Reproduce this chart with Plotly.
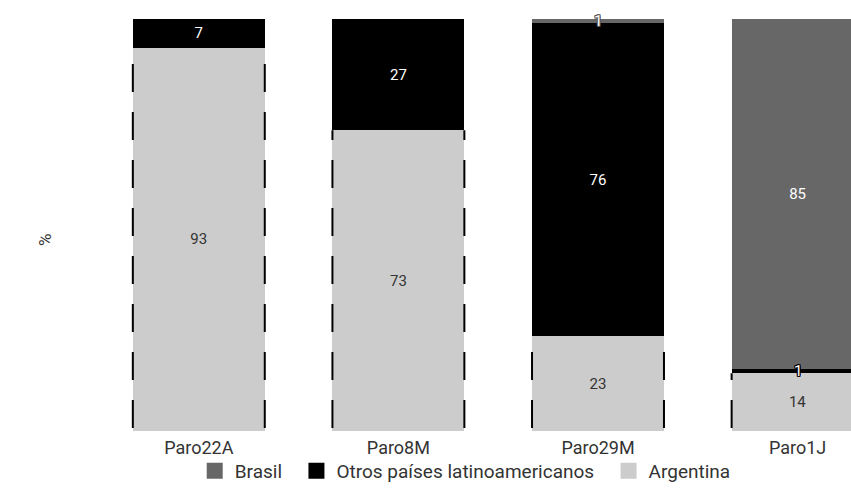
import plotly.graph_objects as go

# Share of participants by origin in each strike (percent)
paros = ["Paro22A", "Paro8M", "Paro29M", "Paro1J"]
argentina = [93, 73, 23, 14]
otros = [7, 27, 76, 1]
brasil = [0, 0, 1, 85]

series_names = ["Brasil", "Otros países latinoamericanos", "Argentina"]

C_BRASIL = "#676767"
C_OTROS = "#000000"
C_ARG = "#cccccc"
TEXT_DARK = "#333333"
FONT = "Roboto, 'Open Sans', sans-serif"

BAR_WIDTH = 0.661
W, H = 851, 500
M_L, M_R, M_T, M_B = 99, 0, 19, 69
STEP_PX = 199.6  # horizontal pixels per category
SMALL = 3        # segments below this are labelled with an outlined annotation
NBSP = "\u00a0"


def labels(vals):
    return [str(v) if v >= SMALL else "" for v in vals]


def outline(color):
    offs = [(1, 1), (-1, -1), (1, -1), (-1, 1), (1, 0), (-1, 0), (0, 1), (0, -1)]
    return ", ".join(f"{dx}px {dy}px 0px {color}" for dx, dy in offs)


fig = go.Figure()

stack = [
    ("Argentina", argentina, C_ARG, TEXT_DARK),
    ("Otros países latinoamericanos", otros, C_OTROS, "white"),
    ("Brasil", brasil, C_BRASIL, "white"),
]

for name, vals, color, tcolor in stack:
    fig.add_trace(go.Bar(
        x=paros, y=vals, name=name,
        marker=dict(color=color, line=dict(width=0)),
        text=labels(vals), textposition="inside", insidetextanchor="middle",
        textangle=0, constraintext="none",
        textfont=dict(family=FONT, size=15, color=tcolor),
        showlegend=False, hoverinfo="skip",
    ))

# Legend entries with larger square keys (trailing spaces widen the item gap)
for k, (name, color) in enumerate(zip(series_names, [C_BRASIL, C_OTROS, C_ARG])):
    pad = NBSP * 2 if k < len(series_names) - 1 else ""
    fig.add_trace(go.Scatter(
        x=[None], y=[None], mode="markers", name=name + pad,
        marker=dict(symbol="square", size=16, color=color),
        showlegend=True, hoverinfo="skip",
    ))

# Outlined labels for the thin segments
annotations = []
outline_colors = {"Otros países latinoamericanos": "#000000", "Brasil": "#555555"}
base = [0] * len(paros)
for name, vals, color, _ in stack:
    for i, v in enumerate(vals):
        if 0 < v < SMALL:
            annotations.append(dict(
                x=paros[i], y=base[i] + v / 2, xref="x", yref="y",
                text=str(v), showarrow=False, xanchor="center", yanchor="middle",
                font=dict(family=FONT, size=15, color="white",
                          shadow=outline(outline_colors[name])),
            ))
        base[i] += v

# Dashed outline around the Argentina segments
shapes = []
for i, a in enumerate(argentina):
    for xe in (i - BAR_WIDTH / 2, i + BAR_WIDTH / 2):
        shapes.append(dict(
            type="line", xref="x", yref="y",
            x0=xe, x1=xe, y0=0, y1=a,
            line=dict(color="black", width=2, dash="0px,3px,28px,17px"),
            layer="above",
        ))

plot_w = W - M_L - M_R
plot_h = H - M_T - M_B
x_right = -0.5 + plot_w / STEP_PX

annotations.append(dict(
    text="%", xref="paper", yref="paper",
    x=(45 - M_L) / plot_w, y=(H - M_B - 240) / plot_h,
    xanchor="center", yanchor="middle", textangle=-90, showarrow=False,
    font=dict(family=FONT, size=17, color=TEXT_DARK),
))

fig.update_layout(
    width=W, height=H,
    margin=dict(l=M_L, r=M_R, t=M_T, b=M_B),
    barmode="stack",
    bargap=1 - BAR_WIDTH,
    plot_bgcolor="white", paper_bgcolor="white",
    font=dict(family=FONT, color=TEXT_DARK),
    shapes=shapes,
    annotations=annotations,
    xaxis=dict(
        type="category", range=[-0.5, x_right],
        showgrid=False, showline=False, zeroline=False, ticks="",
        ticklabelstandoff=4,
        tickfont=dict(family=FONT, size=18, color=TEXT_DARK),
    ),
    yaxis=dict(
        range=[0, 100], showgrid=False, showline=False, zeroline=False,
        showticklabels=False, ticks="",
    ),
    legend=dict(
        orientation="h", traceorder="normal",
        x=0.487, xanchor="center", y=-0.097, yanchor="middle",
        font=dict(family=FONT, size=19, color=TEXT_DARK),
        bgcolor="rgba(0,0,0,0)",
    ),
)

fig.write_html("out.html")
